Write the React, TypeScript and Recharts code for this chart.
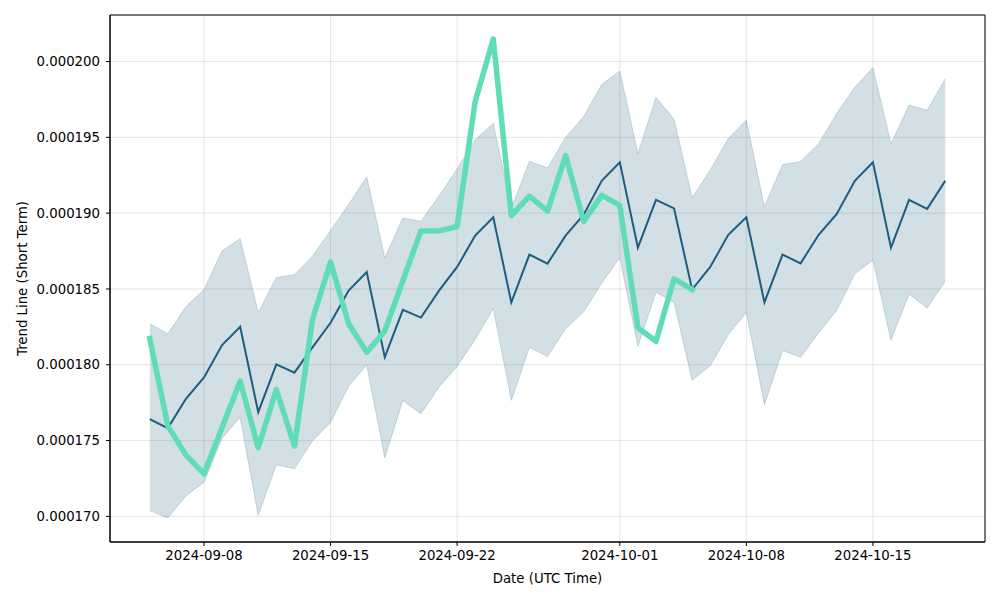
import React from 'react'
import {
  ComposedChart, Area, Line, XAxis, YAxis, CartesianGrid, ReferenceArea,
} from 'recharts'

const DATES = [
  '2024-09-05', '2024-09-06', '2024-09-07', '2024-09-08', '2024-09-09', '2024-09-10', '2024-09-11',
  '2024-09-12', '2024-09-13', '2024-09-14', '2024-09-15', '2024-09-16', '2024-09-17', '2024-09-18',
  '2024-09-19', '2024-09-20', '2024-09-21', '2024-09-22', '2024-09-23', '2024-09-24', '2024-09-25',
  '2024-09-26', '2024-09-27', '2024-09-28', '2024-09-29', '2024-09-30', '2024-10-01', '2024-10-02',
  '2024-10-03', '2024-10-04', '2024-10-05', '2024-10-06', '2024-10-07', '2024-10-08', '2024-10-09',
  '2024-10-10', '2024-10-11', '2024-10-12', '2024-10-13', '2024-10-14', '2024-10-15', '2024-10-16',
  '2024-10-17', '2024-10-18', '2024-10-19',
]

// valores em milionésimos (1e-6)
const LIMITE_INF = [
  170.38, 169.89, 171.36, 172.25, 175.15, 176.53, 170.07, 173.41, 173.14, 174.97, 176.2, 178.58,
  179.99, 173.86, 177.65, 176.76, 178.54, 179.88, 181.66, 183.71, 177.65, 181.15, 180.54, 182.37,
  183.49, 185.38, 187.07, 181.21, 184.78, 184.11, 178.98, 179.94, 181.99, 183.44, 177.36, 180.94,
  180.5, 182.1, 183.6, 186.0, 186.9, 181.61, 184.67, 183.73, 185.51,
]

const LIMITE_SUP = [
  182.71, 182.04, 183.84, 184.96, 187.52, 188.32, 183.44, 185.76, 185.94, 187.16, 188.86, 190.57,
  192.4, 187.05, 189.68, 189.46, 191.13, 192.91, 194.85, 195.92, 190.3, 193.43, 192.98, 194.99,
  196.37, 198.48, 199.38, 193.92, 197.64, 196.19, 191.02, 192.85, 194.92, 196.14, 190.42, 193.2,
  193.4, 194.58, 196.59, 198.31, 199.6, 194.58, 197.13, 196.79, 198.86,
]

const MEDIA = [
  176.42, 175.82, 177.76, 179.16, 181.3, 182.5, 176.87, 180.03, 179.48, 181.15, 182.77, 184.89,
  186.12, 180.5, 183.62, 183.11, 184.89, 186.45, 188.52, 189.73, 184.11, 187.27, 186.67, 188.52,
  189.9, 192.13, 193.36, 187.72, 190.88, 190.31, 184.96, 186.45, 188.57, 189.73, 184.11, 187.27,
  186.69, 188.57, 189.95, 192.13, 193.36, 187.72, 190.88, 190.28, 192.13,
]

// linha verde só vai até 2024-10-05
const TENDENCIA = [
  181.73, 175.97, 174.04, 172.81, 175.86, 178.92, 174.53, 178.36, 174.64, 183.0, 186.78, 182.71,
  180.83, 182.22, 185.56, 188.83, 188.83, 189.12, 197.37, 201.49, 189.84, 191.13, 190.13, 193.8,
  189.46, 191.17, 190.51, 182.44, 181.55, 185.67, 184.96,
]

const TICKS_X = ['2024-09-08', '2024-09-15', '2024-09-22', '2024-10-01', '2024-10-08', '2024-10-15']
const TICKS_Y = [170, 175, 180, 185, 190, 195, 200]

const FONTE = "'DejaVu Sans', sans-serif"
const COR_MEDIA = '#1d5e7e'
const COR_VERDE = '#60ddb7'

const ts = (d: string) => Date.parse(d + 'T00:00:00Z')

const pontos = DATES.map((d, i) => ({
  t: ts(d),
  faixa: [LIMITE_INF[i], LIMITE_SUP[i]],
  media: MEDIA[i],
  tendencia: i < TENDENCIA.length ? TENDENCIA[i] : null,
}))

// margens automáticas de 5% (estilo matplotlib)
const tMin = ts(DATES[0])
const tMax = ts(DATES[DATES.length - 1])
const dominioX = [tMin - (tMax - tMin) * 0.05, tMax + (tMax - tMin) * 0.05]
const todos = [...LIMITE_INF, ...LIMITE_SUP, ...MEDIA, ...TENDENCIA]
const yMin = Math.min(...todos)
const yMax = Math.max(...todos)
const dominioY = [yMin - (yMax - yMin) * 0.05, yMax + (yMax - yMin) * 0.05]

const fmtData = (v: number) => new Date(v).toISOString().slice(0, 10)
const fmtValor = (v: number) => (v / 1e6).toFixed(6)

const tick = { fill: '#000', fontSize: 13.3, fontFamily: FONTE }

export default function App() {
  return (
    <div style={{ position: 'absolute', left: 0, top: 0, width: 1000, height: 600, background: '#fff' }}>
      <ComposedChart
        width={1000}
        height={600}
        data={pontos}
        margin={{ top: 15, right: 15, left: 0, bottom: 0 }}
        style={{ fontFamily: FONTE }}
      >
        <CartesianGrid stroke="#b0b0b0" strokeOpacity={0.4} strokeWidth={0.8} />
        <XAxis
          dataKey="t"
          type="number"
          scale="linear"
          domain={dominioX}
          ticks={TICKS_X.map(ts)}
          tickFormatter={fmtData}
          allowDataOverflow
          height={58}
          tick={tick}
          tickSize={4}
          tickMargin={5}
          axisLine={{ stroke: '#000', strokeWidth: 1 }}
          tickLine={{ stroke: '#000' }}
          label={{
            content: ({ viewBox }: any) => (
              <text
                x={viewBox.x + viewBox.width / 2}
                y={583}
                textAnchor="middle"
                fontSize={13.3}
                fontFamily={FONTE}
                fill="#000"
              >
                Date (UTC Time)
              </text>
            ),
          }}
        />
        <YAxis
          type="number"
          domain={dominioY}
          ticks={TICKS_Y}
          tickFormatter={fmtValor}
          allowDataOverflow
          width={110}
          tick={tick}
          tickSize={4}
          tickMargin={6}
          axisLine={{ stroke: '#000', strokeWidth: 1 }}
          tickLine={{ stroke: '#000' }}
          label={{
            content: ({ viewBox }: any) => {
              const cy = viewBox.y + viewBox.height / 2
              return (
                <text
                  x={22}
                  y={cy}
                  transform={`rotate(-90, 22, ${cy})`}
                  textAnchor="middle"
                  dominantBaseline="central"
                  fontSize={13.3}
                  fontFamily={FONTE}
                  fill="#000"
                >
                  Trend Line (Short Term)
                </text>
              )
            },
          }}
        />
        <Area
          dataKey="faixa"
          type="linear"
          fill={COR_MEDIA}
          fillOpacity={0.2}
          stroke={COR_MEDIA}
          strokeOpacity={0.2}
          strokeWidth={1}
          isAnimationActive={false}
          dot={false}
          activeDot={false}
        />
        <Line
          dataKey="media"
          type="linear"
          stroke={COR_MEDIA}
          strokeWidth={2}
          dot={false}
          activeDot={false}
          isAnimationActive={false}
        />
        <Line
          dataKey="tendencia"
          type="linear"
          stroke={COR_VERDE}
          strokeWidth={5.5}
          strokeLinejoin="round"
          strokeLinecap="square"
          dot={false}
          activeDot={false}
          isAnimationActive={false}
        />
        {/* moldura do gráfico */}
        <ReferenceArea
          x1={dominioX[0]}
          x2={dominioX[1]}
          y1={dominioY[0]}
          y2={dominioY[1]}
          fill="none"
          stroke="#000"
          strokeWidth={1}
          ifOverflow="visible"
        />
      </ComposedChart>
    </div>
  )
}
